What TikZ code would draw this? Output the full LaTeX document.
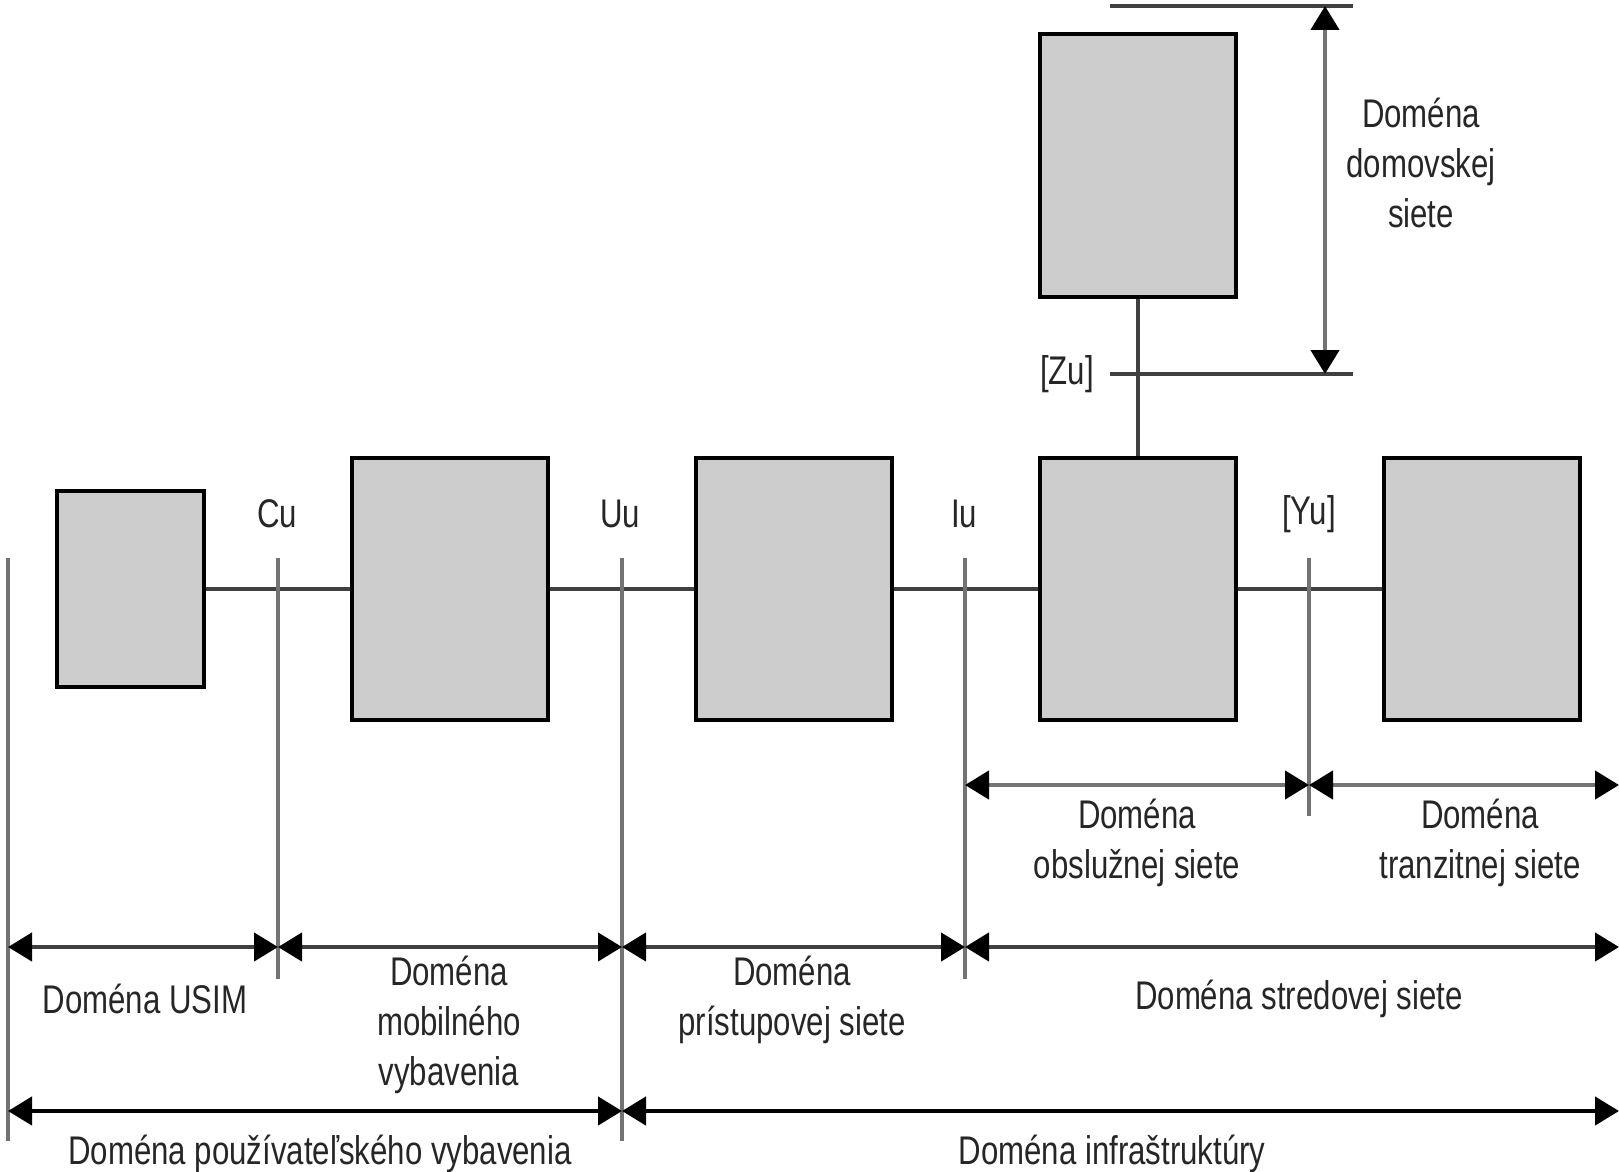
\documentclass[tikz,border=0pt]{standalone}
\usepackage{fontspec}
\setmainfont{Liberation Sans}[FakeStretch=0.78]
\usetikzlibrary{arrows.meta, positioning}

\begin{document}
\begin{tikzpicture}[x=1pt, y=-1pt,
    box/.style={rectangle, draw=black, line width=4pt, fill=black!20, minimum width=196pt, minimum height=262pt, inner sep=0pt},
    link/.style={draw=black!75, line width=4pt},
    refline/.style={draw=black!55, line width=3.5pt},
    dim/.style={draw=#1, line width=4.5pt, {Triangle[length=24pt,width=28pt,color=black]}-{Triangle[length=24pt,width=28pt,color=black]}},
    lbl/.style={font=\fontsize{40}{50}\selectfont, align=center, text=black!85, inner sep=0pt}
]
    \useasboundingbox (0,0) rectangle (1619,1172);

    % Domain boxes
    \node[box, minimum width=147pt, minimum height=196pt] (usim) at (130.5,589) {};
    \node[box] (me) at (450,589) {};
    \node[box] (an) at (794,589) {};
    \node[box] (sn) at (1137.5,589) {};
    \node[box] (tn) at (1482,589) {};
    \node[box, minimum height=263pt] (hn) at (1137.5,165.5) {};

    % Links between boxes
    \draw[link] (usim.east) -- (me.west);
    \draw[link] (me.east) -- (an.west);
    \draw[link] (an.east) -- (sn.west);
    \draw[link] (sn.east) -- (tn.west);
    \draw[link] (hn.south) -- (sn.north);

    % Reference points
    \coordinate (lftT) at (8,558);    \coordinate (lftB) at (8,1141);
    \coordinate (cuT) at (278,558);   \coordinate (cuB) at (278,979);
    \coordinate (uuT) at (622,558);   \coordinate (uuB) at (622,1141);
    \coordinate (iuT) at (965,558);   \coordinate (iuB) at (965,979);
    \coordinate (yuT) at (1309,558);  \coordinate (yuB) at (1309,816);
    \coordinate (rgt) at (1619,0);
    \foreach \p in {lft, cu, uu, iu, yu}
        \draw[refline] (\p T) -- (\p B);

    \node[lbl] (cu) at (277,514) {Cu};
    \node[lbl] (uu) at (620,514) {Uu};
    \node[lbl] (iu) at (964,514) {Iu};
    \node[lbl] (yu) at (1309,514) {[Yu]};

    % Home network reference
    \coordinate (zuL) at (1110,374);  \coordinate (zuR) at (1353,374);
    \coordinate (topL) at (1110,6);   \coordinate (topR) at (1353,6);
    \draw[link] (zuL) -- (zuR);
    \draw[link] (topL) -- (topR);
    \node[lbl] (zu) at (1067,374) {[Zu]};
    \coordinate (hnT) at (1325,6);    \coordinate (hnB) at (1325,374);
    \draw[dim=black!55] (hnT) -- (hnB);
    \node[lbl] (hnlbl) at (1421,163) {Doména\\domovskej\\siete};

    % Domain arrows, first row
    \coordinate (r1) at (0,785);
    \draw[dim=black!55] (iuT |- r1) -- (yuT |- r1);
    \draw[dim=black!55] (yuT |- r1) -- (rgt |- r1);
    \node[lbl] (snlbl) at (1137,843) {Doména\\obslužnej siete};
    \node[lbl] (tnlbl) at (1480,843) {Doména\\tranzitnej siete};

    % Domain arrows, second row
    \coordinate (r2) at (0,947);
    \draw[dim=black!75] (lftT |- r2) -- (cuT |- r2);
    \draw[dim=black!75] (cuT |- r2) -- (uuT |- r2);
    \draw[dim=black!75] (uuT |- r2) -- (iuT |- r2);
    \draw[dim=black!75] (iuT |- r2) -- (rgt |- r2);
    \node[lbl] (usimlbl) at (145,999) {Doména USIM};
    \node[lbl] (melbl) at (449,1025) {Doména\\mobilného\\vybavenia};
    \node[lbl] (anlbl) at (792,1000) {Doména\\prístupovej siete};
    \node[lbl] (cnlbl) at (1299,999) {Doména stredovej siete};

    % Domain arrows, third row
    \coordinate (r3) at (0,1111);
    \draw[dim=black] (lftT |- r3) -- (uuT |- r3);
    \draw[dim=black] (uuT |- r3) -- (rgt |- r3);
    \node[lbl] (uelbl) at (320,1154) {Doména používateľského vybavenia};
    \node[lbl] (inflbl) at (1112,1154) {Doména infraštruktúry};
\end{tikzpicture}
\end{document}
